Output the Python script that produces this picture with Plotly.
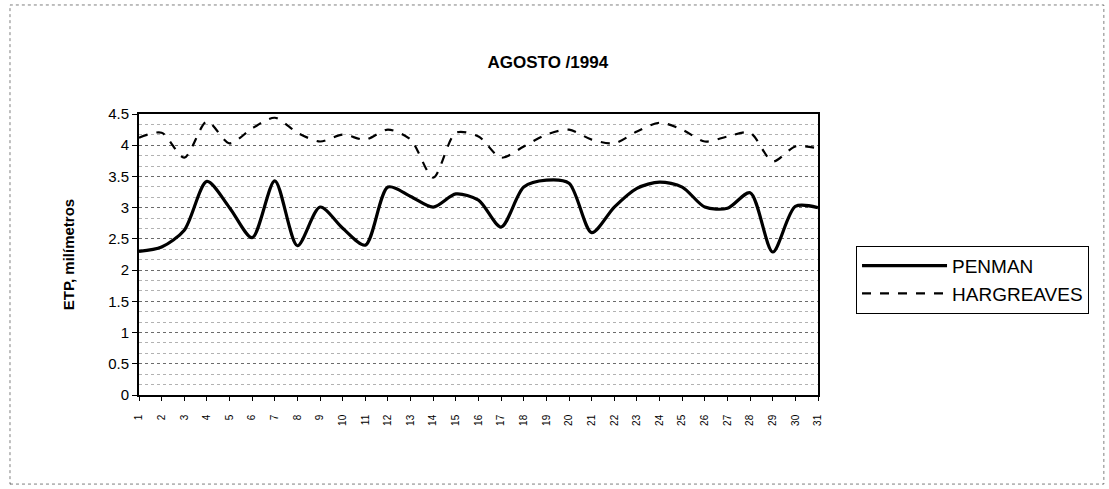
import plotly.graph_objects as go

days = list(range(1, 32))
day_labels = [str(d) for d in days]
penman = [2.30, 2.37, 2.64, 3.42, 3.00, 2.52, 3.43, 2.39, 3.01, 2.67,
          2.40, 3.33, 3.18, 3.01, 3.22, 3.12, 2.69, 3.33, 3.44, 3.39,
          2.60, 3.01, 3.31, 3.41, 3.33, 3.01, 2.99, 3.24, 2.29, 3.02, 3.00]
hargreaves = [4.12, 4.20, 3.80, 4.38, 4.03, 4.27, 4.44, 4.20, 4.06, 4.17,
              4.09, 4.25, 4.09, 3.48, 4.20, 4.14, 3.80, 3.98, 4.17, 4.25,
              4.09, 4.03, 4.22, 4.36, 4.25, 4.06, 4.14, 4.20, 3.74, 3.98, 3.95]
y_ticks = [0, 0.5, 1, 1.5, 2, 2.5, 3, 3.5, 4, 4.5]
y_ticktext = ["0", "0.5", "1", "1.5", "2", "2.5", "3", "3.5", "4", "4.5"]

fig = go.Figure()
fig.add_trace(go.Scatter(x=days, y=penman, name="PENMAN", mode="lines",
                         line=dict(color="black", width=3.2, shape="spline", smoothing=0.8)))
fig.add_trace(go.Scatter(x=days, y=hargreaves, name="HARGREAVES", mode="lines",
                         line=dict(color="black", width=2.2, dash="dash", shape="spline", smoothing=0.8)))

font = "Liberation Sans, Arial, sans-serif"
fig.update_layout(
    width=1109, height=489,
    margin=dict(l=139, r=291, t=114, b=94),
    paper_bgcolor="white", plot_bgcolor="white",
    font=dict(family=font, color="black"),
    title=dict(text="<b>AGOSTO /1994</b>", x=0.494, xanchor="center", y=0.873, yanchor="middle",
               font=dict(size=17, family=font)),
    showlegend=True,
    legend=dict(x=1.056, xanchor="left", y=0.41, yanchor="middle",
                bordercolor="black", borderwidth=1, bgcolor="white",
                font=dict(size=19, family=font), itemwidth=85, tracegroupgap=0),
    xaxis=dict(range=[1, 31], tickmode="array", tickvals=days, ticktext=day_labels,
               tickangle=-90, tickfont=dict(size=10), ticks="outside", ticklen=4,
               tickcolor="black", showgrid=False, showline=True, linecolor="black",
               linewidth=1.5, mirror=True, zeroline=False, ticklabelstandoff=10),
    yaxis=dict(range=[0, 4.5], tickmode="array", tickvals=y_ticks, ticktext=y_ticktext,
               tickfont=dict(size=15), ticks="outside", ticklen=5, tickcolor="black",
               showline=True, linecolor="black", linewidth=2, mirror=True, zeroline=False,
               showgrid=True, gridcolor="rgba(0,0,0,0.4)", griddash="dot", gridwidth=1,
               minor=dict(dtick=0.5 / 3, showgrid=True, gridcolor="rgba(0,0,0,0.3)",
                          griddash="dot", gridwidth=1),
               title=dict(text="<b>ETP, milímetros</b>", font=dict(size=15), standoff=30)),
)
fig.add_shape(type="rect", xref="paper", yref="paper", x0=-0.19, x1=1.421, y0=-0.317, y1=1.388,
              line=dict(color="rgba(0,0,0,0.5)", width=1, dash="dot"))
fig.write_html("out.html")
